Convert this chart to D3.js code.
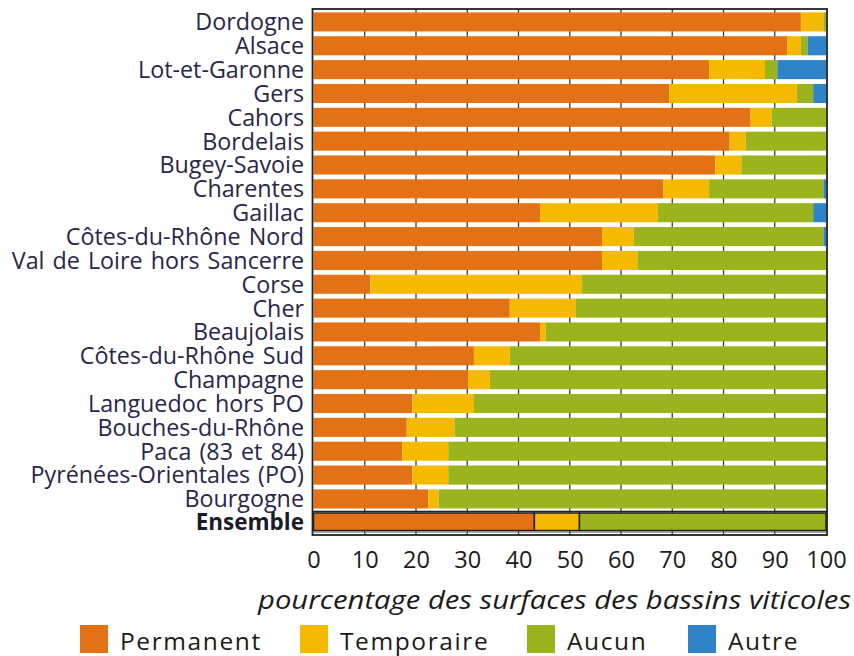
<!DOCTYPE html>
<html><head><meta charset="utf-8">
<script src="https://cdn.jsdelivr.net/npm/d3@7"></script>
<style>body{margin:0;background:#fff}svg{display:block}</style>
</head><body>
<svg id="c" width="854" height="656"></svg>
<script>
const regions = ["Dordogne","Alsace","Lot-et-Garonne","Gers","Cahors","Bordelais","Bugey-Savoie","Charentes","Gaillac","Côtes-du-Rhône Nord","Val de Loire hors Sancerre","Corse","Cher","Beaujolais","Côtes-du-Rhône Sud","Champagne","Languedoc hors PO","Bouches-du-Rhône","Paca (83 et 84)","Pyrénées-Orientales (PO)","Bourgogne"];
const permanent  = [95.1,92.4,77.2,69.4,85.3,81.2,78.4,68.3,44.2,56.3,56.3,11.1,38.3,44.2,31.3,30.1,19.3,18.2,17.3,19.3,22.4];
const temporaire = [4.4,2.7,10.9,24.9,4.1,3.1,5.1,8.9,23.0,6.2,6.9,41.3,12.9,1.1,7.0,4.3,12.0,9.3,9.0,7.0,2.0];
const aucun      = [0.5,1.3,2.4,3.2,10.6,15.7,16.5,22.3,30.3,37.0,36.8,47.6,48.8,54.7,61.7,65.6,68.7,72.5,73.7,73.7,75.6];
const autre      = [0,3.6,9.5,2.5,0,0,0,0.5,2.5,0.5,0,0,0,0,0,0,0,0,0,0,0];
const totalLabel = "Ensemble";
const totalValues = [43.1, 8.8, 48.1, 0];
const seriesNames = ["Permanent","Temporaire","Aucun","Autre"];
const colors = ["#E37115","#F5BA00","#9BB41E","#2E83C9"];
const xTicks = [0,10,20,30,40,50,60,70,80,90,100];
const xTitle = "pourcentage des surfaces des bassins viticoles";

const FONT = "'Open Sans', Lato, sans-serif";
const svg = d3.select("#c");
const x = d3.scaleLinear().domain([0,100]).range([313.5,826]);
const y = d3.scaleBand().domain(regions).range([10,510.85]).paddingInner(0.2).paddingOuter(0.1);
const frameTop = 9, frameBottom = 535, sepY = 511.5;
const ensTop = 513, ensH = 17.5;

// gridlines
svg.append("g").selectAll("line").data(xTicks.slice(1,-1)).join("line")
  .attr("x1", d=>x(d)).attr("x2", d=>x(d)).attr("y1", frameTop).attr("y2", frameBottom)
  .attr("stroke","#3a3a3a").attr("stroke-width",1.3);

const keys = ["p","t","a","o"];
const rows = regions.map((r,i)=>({name:r,p:permanent[i],t:temporaire[i],a:aucun[i],o:autre[i]}));
const stack = d3.stack().keys(keys)(rows);
const g = svg.append("g");
stack.forEach((layer,k)=>{
  g.append("g").attr("fill",colors[k]).selectAll("rect").data(layer).join("rect")
    .attr("x", d=>x(d[0])).attr("width", d=>Math.max(0,x(Math.min(100,d[1]))-x(d[0])))
    .attr("y", d=>y(d.data.name)).attr("height", y.bandwidth());
});

// ensemble
const ensRow = [{name:totalLabel,p:totalValues[0],t:totalValues[1],a:totalValues[2],o:totalValues[3]}];
const ensStack = d3.stack().keys(keys)(ensRow);
ensStack.forEach((layer,k)=>{
  svg.append("g").selectAll("rect").data(layer.filter(d=>d[1]-d[0]>0)).join("rect")
    .attr("x", d=>x(d[0])).attr("width", d=>x(Math.min(100,d[1]))-x(d[0]))
    .attr("y", ensTop).attr("height", ensH)
    .attr("fill", colors[k]).attr("stroke","#222").attr("stroke-width",1.5);
});

// separator and frame
svg.append("line").attr("x1",x(0)-1.5).attr("x2",x(100)+1).attr("y1",sepY).attr("y2",sepY)
  .attr("stroke","#222").attr("stroke-width",1.5);
svg.append("rect").attr("x",312.5).attr("y",frameTop).attr("width",827-312.5).attr("height",frameBottom-frameTop)
  .attr("fill","none").attr("stroke","#222").attr("stroke-width",1.8);
svg.append("line").attr("x1",312.5).attr("x2",827).attr("y1",frameBottom-3).attr("y2",frameBottom-3)
  .attr("stroke","#555").attr("stroke-width",1);

// category labels
svg.append("g").selectAll("text").data(regions).join("text")
  .attr("x",304).attr("y", d=>y(d)+y.bandwidth()/2).attr("dy","0.36em")
  .attr("text-anchor","end").attr("font-family",FONT).attr("font-size",23.3)
  .attr("word-spacing",2).attr("fill","#28264a").text(d=>d);
svg.append("text").attr("x",304).attr("y",ensTop+ensH/2).attr("dy","0.36em")
  .attr("text-anchor","end").attr("font-family",FONT).attr("font-size",22.5)
  .attr("font-weight","bold").attr("fill","#1a1a2a").text(totalLabel);

// x axis labels
const ax = svg.append("g").attr("transform",`translate(0,${frameBottom})`)
  .call(d3.axisBottom(x).tickValues(xTicks).tickSize(0).tickPadding(16).tickFormat(d3.format("d")));
ax.select(".domain").remove();
ax.selectAll("text").attr("font-family",FONT).attr("font-size",23.5).attr("fill","#1a1a1a");

svg.append("text").attr("x",851).attr("y",609).attr("text-anchor","end")
  .attr("font-family",FONT).attr("font-style","italic").attr("font-size",26)
  .attr("textLength",593).attr("lengthAdjust","spacingAndGlyphs")
  .attr("fill","#1a1a1a").text(xTitle);

// legend
const legX = [80,300,527,688];
const leg = svg.append("g").selectAll("g").data(seriesNames).join("g")
  .attr("transform",(d,i)=>`translate(${legX[i]},625)`);
leg.append("rect").attr("width",28).attr("height",28).attr("fill",(d,i)=>colors[i]);
leg.append("text").attr("x",40).attr("y",25).attr("font-family",FONT)
  .attr("font-size",24.5).attr("letter-spacing",1.6).attr("fill","#1a1a1a").text(d=>d);
</script>
</body></html>
